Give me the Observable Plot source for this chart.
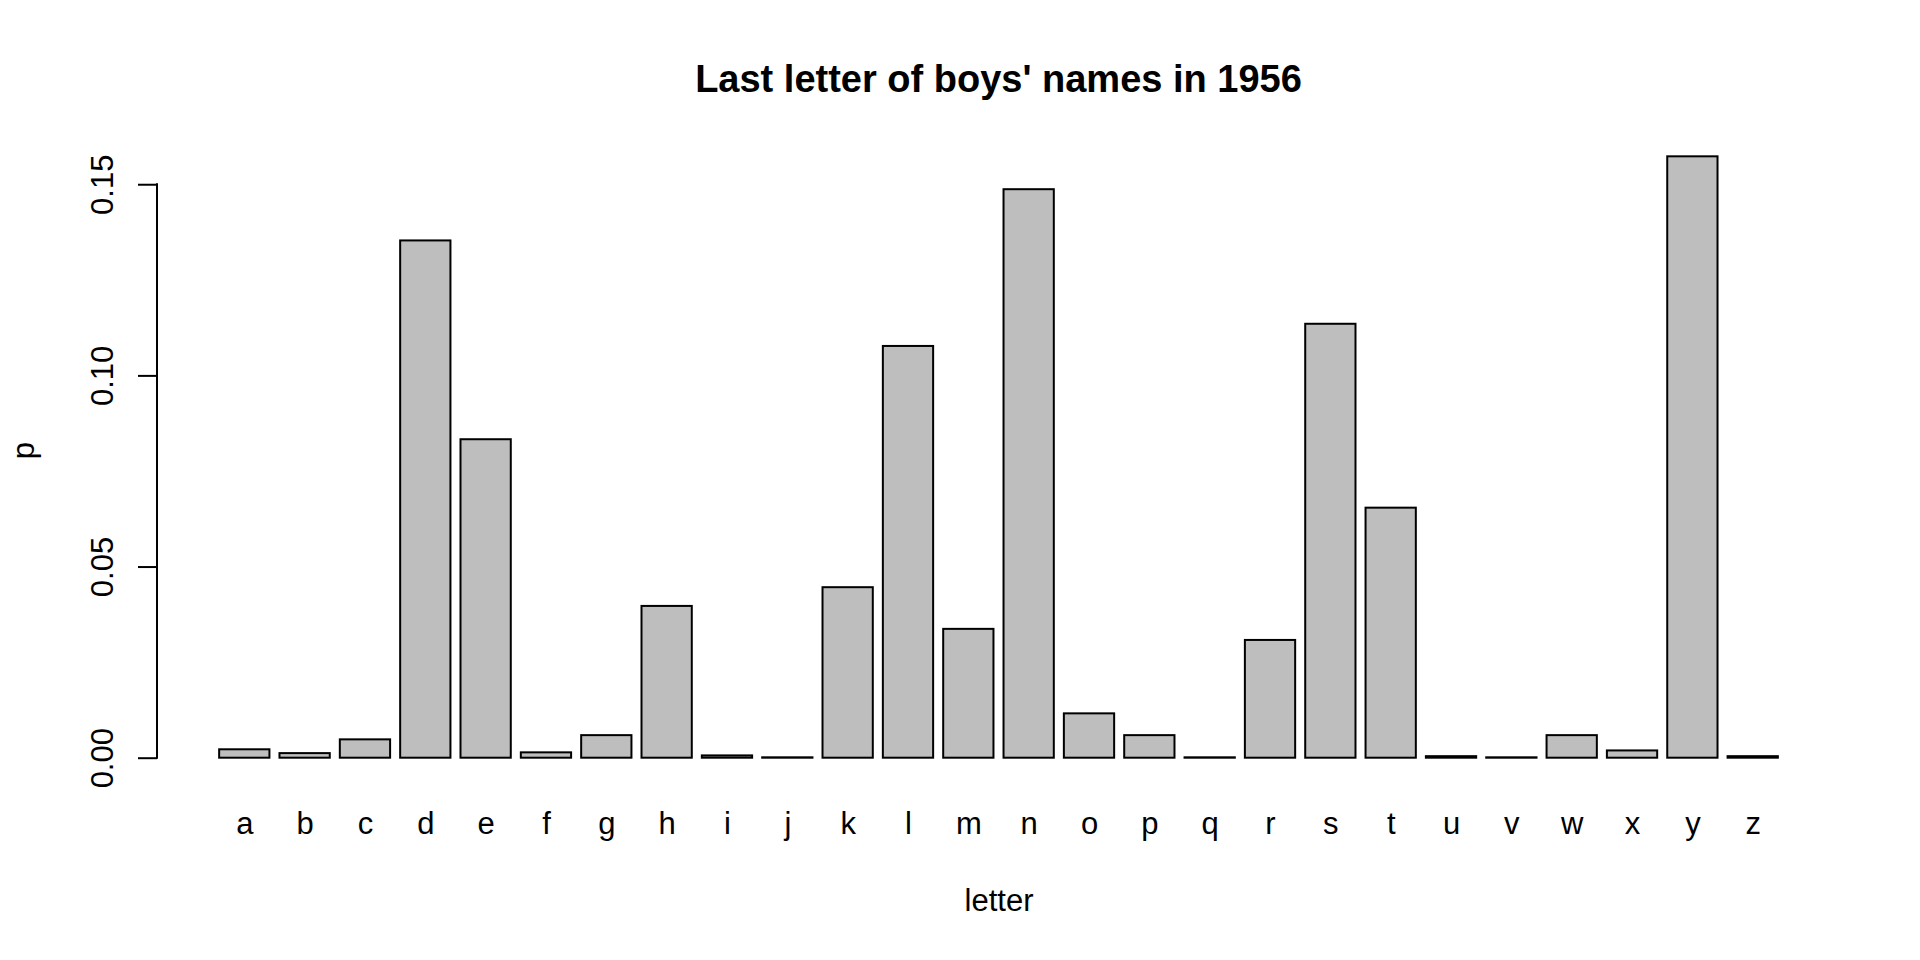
<!DOCTYPE html>
<html><head><meta charset="utf-8">
<script src="https://cdn.jsdelivr.net/npm/d3@7"></script>
<script src="https://cdn.jsdelivr.net/npm/@observablehq/plot@0.6"></script>
<style>
body{margin:0;background:#fff;}
#wrap{width:1920px;height:960px;position:relative;background:#fff;}
#title{height:120px;box-sizing:border-box;padding-top:60px;width:1683px;margin-left:157px;text-align:center;font:bold 38px/38px "Liberation Sans",Arial,sans-serif;color:#000;white-space:nowrap;}
</style></head><body>
<div id="wrap"><div id="title">Last letter of boys' names in 1956</div><div id="chart"></div></div>
<script>
const letters = ["a","b","c","d","e","f","g","h","i","j","k","l","m","n","o","p","q","r","s","t","u","v","w","x","y","z"];
const pValues = [0.0022,0.0012,0.0048,0.1353,0.0833,0.0014,0.0059,0.0397,0.0006,0.0001,0.0446,0.1077,0.0337,0.1487,0.0116,0.0059,0.0001,0.0308,0.1135,0.0654,0.0004,0.0001,0.0059,0.0019,0.1573,0.0004];
const yTicks = [0, 0.05, 0.10, 0.15];
const xLabel = "letter";
const yLabel = "p";

const data = letters.map((l, i) => ({letter: l, p: pValues[i]}));

const yAxisLine = (index, scales, values, dims) => {
  const y = scales.y;
  return d3.create("svg:line")
    .attr("x1", dims.marginLeft).attr("x2", dims.marginLeft)
    .attr("y1", y(yTicks[0])).attr("y2", y(yTicks[yTicks.length - 1]))
    .attr("stroke", "#000").attr("stroke-width", 2).attr("stroke-linecap", "square")
    .node();
};

const chart = Plot.plot({
  width: 1920, height: 840,
  marginLeft: 157, marginRight: 80, marginTop: 26, marginBottom: 202.3,
  style: {fontFamily: '"Liberation Sans", Arial, sans-serif', fontSize: "31px", color: "#000", background: "#fff", overflow: "visible"},
  x: {domain: letters, paddingInner: 1/6, paddingOuter: 1.03, align: 0.5, round: false},
  y: {domain: [0, 0.16]},
  marks: [
    Plot.barY(data, {x: "letter", y: "p", fill: "#BEBEBE", stroke: "#000", strokeWidth: 2}),
    Plot.axisX({tickSize: 0, tickPadding: 53.3, label: null, fill: "#000"}),
    Plot.axisY({ticks: yTicks, tickFormat: d3.format(".2f"), tickSize: 19, tickPadding: 26, tickRotate: -90, textAnchor: "middle", lineAnchor: "bottom", label: null, strokeWidth: 2, stroke: "#000", fill: "#000"}),
    yAxisLine,
    Plot.text([xLabel], {frameAnchor: "bottom", lineAnchor: "bottom", dy: 152.3, fill: "#000"}),
    Plot.text([yLabel], {frameAnchor: "left", lineAnchor: "bottom", rotate: -90, dx: -124, dy: 7, fill: "#000"})
  ]
});
document.getElementById("chart").appendChild(chart);
</script>
</body></html>
